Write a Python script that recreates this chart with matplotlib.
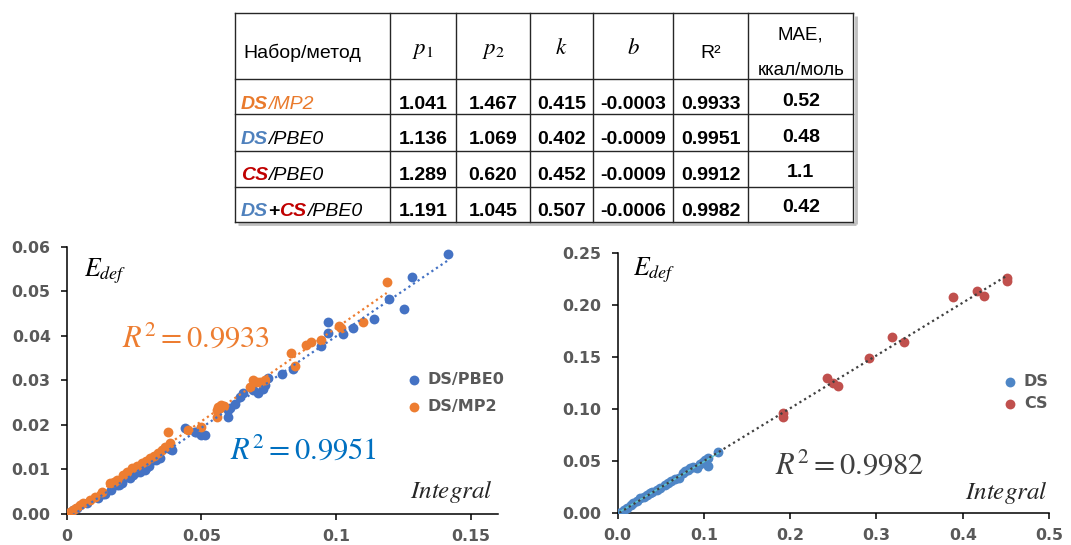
import numpy as np
import matplotlib
matplotlib.use("Agg")
import matplotlib.pyplot as plt

# ---------------- data ----------------
ds_pbe0_x = [0.1413, 0.1281, 0.1197, 0.1252, 0.1139, 0.1062, 0.1024, 0.0969, 0.0969, 0.0944,
             0.0839, 0.0800, 0.0747, 0.0728, 0.0710, 0.0691, 0.0654, 0.0642, 0.0605, 0.0598,
             0.0500, 0.0475, 0.0438, 0.0383, 0.0321, 0.0290, 0.0259, 0.0222, 0.0185, 0.0136,
             0.0074, 0.0024, 0.0006, 0.0481, 0.0512, 0.0389, 0.0333, 0.0296, 0.0271, 0.0234,
             0.0204, 0.0142, 0.0115, 0.0165, 0.0195, 0.0245, 0.0280, 0.0305, 0.0345, 0.0598,
             0.0625, 0.0735, 0.0040]
ds_pbe0_y = [0.0584, 0.0531, 0.0483, 0.0461, 0.0438, 0.0418, 0.0404, 0.0431, 0.0407, 0.0377,
             0.0325, 0.0314, 0.0305, 0.0280, 0.0271, 0.0278, 0.0271, 0.0262, 0.0237, 0.0218,
             0.0177, 0.0183, 0.0192, 0.0145, 0.0121, 0.0099, 0.0095, 0.0082, 0.0065, 0.0046,
             0.0024, 0.0009, 0.0003, 0.0185, 0.0177, 0.0144, 0.0121, 0.0103, 0.0095, 0.0080,
             0.0069, 0.0046, 0.0036, 0.0054, 0.0066, 0.0088, 0.0100, 0.0108, 0.0125, 0.0233,
             0.0248, 0.0290, 0.0014]

ds_mp2_x = [0.0376, 0.0383, 0.0352, 0.0309, 0.0278, 0.0241, 0.0210, 0.0185, 0.0160, 0.0105,
            0.0049, 0.0012, 0.0450, 0.0500, 0.0556, 0.0562, 0.0574, 0.0556, 0.0679, 0.0691,
            0.0716, 0.0734, 0.0833, 0.0846, 0.0889, 0.0907, 0.0944, 0.1012, 0.1019, 0.1099,
            0.1187, 0.0022, 0.0035, 0.0062, 0.0085, 0.0130, 0.0175, 0.0225, 0.0260, 0.0295,
            0.0325, 0.0340, 0.0365, 0.0570, 0.0585, 0.0705]
ds_mp2_y = [0.0185, 0.0159, 0.0144, 0.0125, 0.0114, 0.0103, 0.0088, 0.0076, 0.0069, 0.0039,
            0.0020, 0.0005, 0.0189, 0.0196, 0.0233, 0.0241, 0.0245, 0.0218, 0.0286, 0.0301,
            0.0297, 0.0301, 0.0361, 0.0332, 0.0379, 0.0387, 0.0391, 0.0422, 0.0417, 0.0432,
            0.0521, 0.0009, 0.0013, 0.0024, 0.0032, 0.0050, 0.0072, 0.0095, 0.0108, 0.0119,
            0.0130, 0.0137, 0.0150, 0.0237, 0.0243, 0.0296]

ds_x = [0.1166, 0.1050, 0.1050, 0.0992, 0.0915, 0.0818, 0.0760, 0.0664, 0.0587, 0.0490,
        0.0374, 0.0336, 0.0258, 0.0181, 0.0104, 0.0046, 0.0019, 0.0840, 0.0780, 0.0875,
        0.0950, 0.1010, 0.0705, 0.0620, 0.0550, 0.0450, 0.0400, 0.0300, 0.0220, 0.0150,
        0.0070]
ds_y = [0.0589, 0.0528, 0.0455, 0.0497, 0.0432, 0.0416, 0.0384, 0.0327, 0.0295, 0.0240,
        0.0192, 0.0176, 0.0144, 0.0096, 0.0048, 0.0016, 0.0006, 0.0435, 0.0410, 0.0445,
        0.0470, 0.0510, 0.0340, 0.0310, 0.0275, 0.0220, 0.0200, 0.0155, 0.0115, 0.0075,
        0.0033]
cs_x = [0.4508, 0.4508, 0.4171, 0.4248, 0.3889, 0.3182, 0.3321, 0.2912, 0.2422, 0.2498,
        0.2556, 0.1919, 0.1919]
cs_y = [0.2260, 0.2237, 0.2141, 0.2090, 0.2077, 0.1698, 0.1644, 0.1490, 0.1298, 0.1250,
        0.1224, 0.0962, 0.0929]

table_header = ["Набор/метод", "$p_1$", "$p_2$", "$k$", "$b$", "R²", "MAE,\nккал/моль"]
table_p1 = ["1.041", "1.136", "1.289", "1.191"]
table_p2 = ["1.467", "1.069", "0.620", "1.045"]
table_k = ["0.415", "0.402", "0.452", "0.507"]
table_b = ["-0.0003", "-0.0009", "-0.0009", "-0.0006"]
table_r2 = ["0.9933", "0.9951", "0.9912", "0.9982"]
table_mae = ["0.52", "0.48", "1.1", "0.42"]

# ---------------- style ----------------
BLUE = "#4472C4"
ORANGE = "#ED7D31"
DSBLUE = "#4E86C6"
CSRED = "#C0504D"
TXTBLUE = "#0070C0"
TICKGRAY = "#595959"
T_ORANGE = "#E97A2C"
T_BLUE = "#4F81BD"
T_RED = "#C00000"

W, H = 1071, 545
fig = plt.figure(figsize=(W / 100, H / 100), dpi=100)


def px_axes(x0, x1, y_bot, y_top):
    return fig.add_axes([x0 / W, 1 - y_bot / H, (x1 - x0) / W, (y_bot - y_top) / H])


def style_axes(ax):
    for s in ["top", "right"]:
        ax.spines[s].set_visible(False)
    for s in ["left", "bottom"]:
        ax.spines[s].set_linewidth(1.1)
        ax.spines[s].set_color("black")
    ax.tick_params(direction="out", length=4, width=1.1, color="black",
                   labelsize=11.3, labelcolor=TICKGRAY)
    ax.tick_params(axis="y", pad=7.5)
    ax.tick_params(axis="x", pad=6.5)
    for lab in ax.get_xticklabels() + ax.get_yticklabels():
        lab.set_fontfamily("DejaVu Sans")
        lab.set_fontweight("bold")


def trend(ax, x, y, color, lw=1.6, zorder=4, ls=(0, (1, 1.5))):
    x = np.asarray(x); y = np.asarray(y)
    k, b = np.polyfit(x, y, 1)
    xs = np.array([x.min(), x.max()])
    ax.plot(xs, k * xs + b, color=color, lw=lw, linestyle=ls, zorder=zorder)


# ---------------- left chart ----------------
axL = px_axes(66.7, 498, 514, 246.7)
axL.scatter(ds_pbe0_x, ds_pbe0_y, s=50, color=BLUE, label="DS/PBE0", zorder=3, linewidths=0)
axL.scatter(ds_mp2_x, ds_mp2_y, s=50, color=ORANGE, label="DS/MP2", zorder=3, linewidths=0)
trend(axL, ds_pbe0_x, ds_pbe0_y, BLUE)
trend(axL, ds_mp2_x, ds_mp2_y, ORANGE)
axL.set_xlim(0, 0.16)
axL.set_ylim(0, 0.06)
axL.set_xticks([0, 0.05, 0.1, 0.15])
axL.set_xticklabels(["0", "0.05", "0.1", "0.15"])
axL.set_yticks([0, 0.01, 0.02, 0.03, 0.04, 0.05, 0.06])
axL.set_yticklabels(["0.00", "0.01", "0.02", "0.03", "0.04", "0.05", "0.06"])
style_axes(axL)
axL.legend(loc="center left", bbox_to_anchor=(408 / W, 1 - 393 / H), bbox_transform=fig.transFigure,
           frameon=False, handlelength=0.8, handletextpad=0.45, labelspacing=0.75, borderpad=0,
           borderaxespad=0, scatterpoints=1,
           prop=dict(family="DejaVu Sans", weight="bold", size=11.5), labelcolor=TICKGRAY)

math_kw = dict(math_fontfamily="stix")
axL.text(0.04, 0.89, r"$E_{def}$", transform=axL.transAxes, fontsize=18.5, ha="left", va="baseline",
         color="black", **math_kw)
axL.text(0.1275, 0.626, r"$R^2=0.9933$", transform=axL.transAxes, fontsize=22, ha="left",
         va="baseline", color=ORANGE, **math_kw)
axL.text(0.3786, 0.208, r"$R^2=0.9951$", transform=axL.transAxes, fontsize=22, ha="left",
         va="baseline", color=TXTBLUE, **math_kw)
axL.text(0.989, 0.0587, r"$Integral$", transform=axL.transAxes, fontsize=18, ha="right",
         va="baseline", color="#262626", **math_kw)

# ---------------- right chart ----------------
axR = px_axes(617.7, 1049, 513.3, 253.3)
axR.scatter(ds_x, ds_y, s=50, color=DSBLUE, label="DS", zorder=3, linewidths=0)
axR.scatter(cs_x, cs_y, s=50, color=CSRED, label="CS", zorder=3, linewidths=0)
trend(axR, ds_x, ds_y, "#5CC8D0", lw=1.0, ls="-")
trend(axR, list(ds_x) + list(cs_x), list(ds_y) + list(cs_y), "#404040", lw=1.6)
axR.set_xlim(0, 0.5)
axR.set_ylim(0, 0.25)
axR.set_xticks([0, 0.1, 0.2, 0.3, 0.4, 0.5])
axR.set_xticklabels(["0.0", "0.1", "0.2", "0.3", "0.4", "0.5"])
axR.set_yticks([0, 0.05, 0.10, 0.15, 0.20, 0.25])
axR.set_yticklabels(["0.00", "0.05", "0.10", "0.15", "0.20", "0.25"])
style_axes(axR)
axR.legend(loc="center left", bbox_to_anchor=(1004 / W, 1 - 392.5 / H), bbox_transform=fig.transFigure,
           frameon=False, handlelength=0.8, handletextpad=0.45, labelspacing=0.4, borderpad=0,
           borderaxespad=0, scatterpoints=1,
           prop=dict(family="DejaVu Sans", weight="bold", size=11.5), labelcolor=TICKGRAY)
axR.text(0.036, 0.9165, r"$E_{def}$", transform=axR.transAxes, fontsize=18.5, ha="left", va="baseline",
         color="black", **math_kw)
axR.text(0.365, 0.154, r"$R^2=0.9982$", transform=axR.transAxes, fontsize=22, ha="left",
         va="baseline", color="#404040", **math_kw)
axR.text(0.998, 0.054, r"$Integral$", transform=axR.transAxes, fontsize=18, ha="right",
         va="baseline", color="#262626", **math_kw)

# ---------------- table ----------------
axT = fig.add_axes([0, 0, 1, 1])
axT.set_xlim(0, W)
axT.set_ylim(H, 0)
axT.axis("off")
col_edges = [234.7, 389.7, 456.3, 529.7, 592.7, 673.3, 748.3, 853.3]
row_edges = [13.3, 79, 114.3, 150.7, 186.7, 221.7]
# shadow
axT.plot([col_edges[-1] + 2.5, col_edges[-1] + 2.5], [row_edges[0] + 3, row_edges[-1] + 2.5],
         color="#BFBFBF", lw=2.0, solid_capstyle="butt")
axT.plot([col_edges[0] + 3, col_edges[-1] + 2.5], [row_edges[-1] + 2.5, row_edges[-1] + 2.5],
         color="#BFBFBF", lw=2.0, solid_capstyle="butt")
for xe in col_edges:
    axT.plot([xe, xe], [row_edges[0], row_edges[-1]], color="#262626", lw=1.0)
for ye in row_edges:
    axT.plot([col_edges[0], col_edges[-1]], [ye, ye], color="#262626", lw=1.0)

centers = [(col_edges[i] + col_edges[i + 1]) / 2 for i in range(len(col_edges) - 1)]
SANS = "Liberation Sans"
# header
axT.text(243, 58.3, table_header[0], fontsize=14, family=SANS, ha="left", va="baseline")
for i in range(1, 5):
    axT.text(centers[i], 54, table_header[i], fontsize=16.5, ha="center", va="baseline", **math_kw)
axT.text(centers[5], 58.3, table_header[5], fontsize=14, family=SANS, ha="center", va="baseline")
mae1, mae2 = table_header[6].split("\n")
axT.text(centers[6], 40, mae1, fontsize=13.5, family=SANS, ha="center", va="baseline")
axT.text(centers[6], 75, mae2, fontsize=13.5, family=SANS, ha="center", va="baseline")

baselines = [109, 144.3, 180, 215.7]
mae_base = [106, 141.5, 177, 211.5]
renderer = fig.canvas.get_renderer()


def rich(x, y, parts):
    for s, color, weight in parts:
        t = axT.text(x, y, s, fontsize=14, family=SANS, style="italic" if s != "+" else "normal",
                     weight=weight, color=color, ha="left", va="baseline")
        bb = t.get_window_extent(renderer)
        x += bb.width


row_labels = [
    [("DS", T_ORANGE, "bold"), ("/MP2", T_ORANGE, "normal")],
    [("DS", T_BLUE, "bold"), ("/PBE0", "black", "normal")],
    [("CS", T_RED, "bold"), ("/PBE0", "black", "normal")],
    [("DS", T_BLUE, "bold"), ("+", "black", "bold"), ("CS", T_RED, "bold"), ("/PBE0", "black", "normal")],
]
for r in range(4):
    rich(241, baselines[r], row_labels[r])
    for c, col in enumerate([table_p1, table_p2, table_k, table_b, table_r2]):
        axT.text(centers[c + 1], baselines[r], col[r], fontsize=14, family=SANS, weight="bold",
                 ha="center", va="baseline")
    axT.text(centers[6], mae_base[r], table_mae[r], fontsize=14, family=SANS, weight="bold",
             ha="center", va="baseline")

fig.savefig("out.png", dpi=100)
